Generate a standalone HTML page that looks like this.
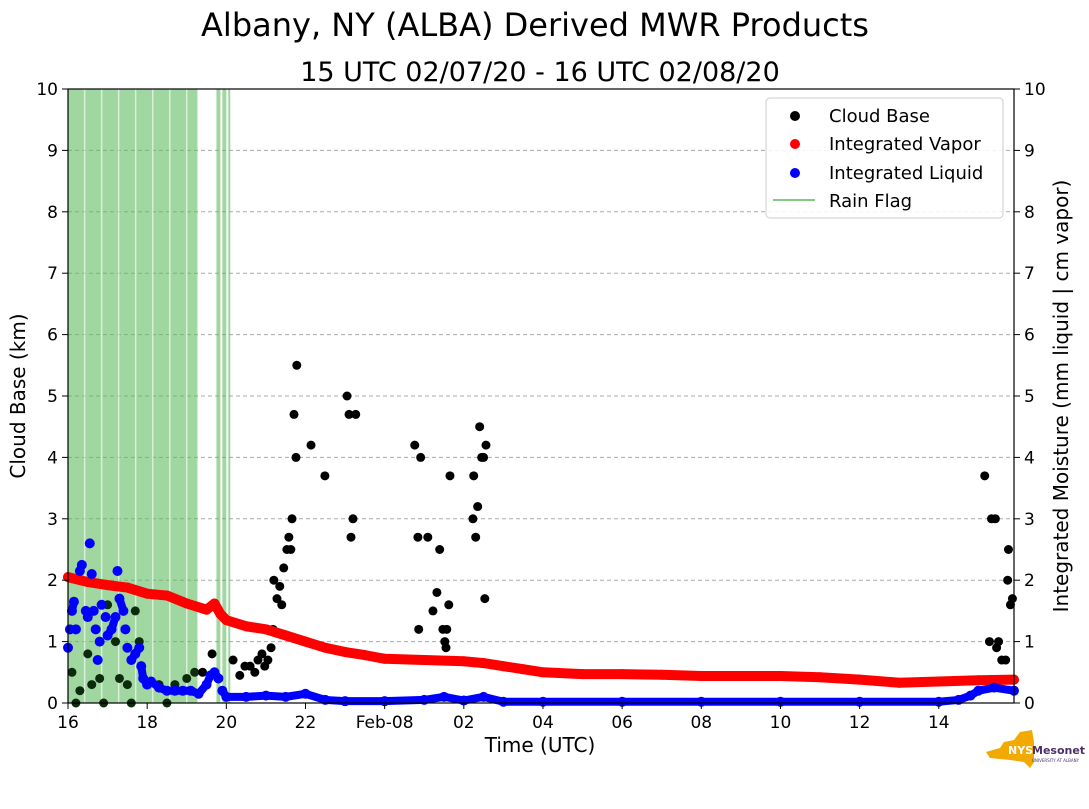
<!DOCTYPE html>
<html><head><meta charset="utf-8"><style>
body{margin:0;background:#fff;}
svg text{font-family:"DejaVu Sans","Liberation Sans",sans-serif;}
</style></head><body>
<svg id="chart" width="1089" height="804" viewBox="0 0 1089 804" xmlns="http://www.w3.org/2000/svg">
<text x="535" y="36" font-size="32" text-anchor="middle">Albany, NY (ALBA) Derived MWR Products</text>
<text x="540" y="81" font-size="27" text-anchor="middle">15 UTC 02/07/20 - 16 UTC 02/08/20</text>
<g id="grid"></g>
<g id="rain"></g>
<g id="cloud"></g>
<g id="vapor"></g>
<g id="liquid"></g>
<rect x="68" y="89" width="946" height="614" fill="none" stroke="#000" stroke-width="1.2"/>
<g id="axes"></g>
<text x="540" y="752" font-size="20" text-anchor="middle">Time (UTC)</text>
<text transform="translate(25,396) rotate(-90)" font-size="20" text-anchor="middle">Cloud Base (km)</text>
<text transform="translate(1068,396) rotate(-90)" font-size="20" text-anchor="middle">Integrated Moisture (mm liquid | cm vapor)</text>
<g>
<rect x="766" y="98" width="237" height="120" rx="4" fill="#fff" fill-opacity="0.85" stroke="#ccc"/>
<circle cx="795" cy="116" r="5" fill="#000"/>
<text x="829" y="122" font-size="18">Cloud Base</text>
<circle cx="795" cy="144" r="5" fill="red"/>
<text x="829" y="150" font-size="18">Integrated Vapor</text>
<circle cx="795" cy="173" r="5" fill="blue"/>
<text x="829" y="179" font-size="18">Integrated Liquid</text>
<line x1="773" y1="200" x2="815" y2="200" stroke="#5cb85c" stroke-width="1.5"/>
<text x="829" y="207" font-size="18">Rain Flag</text>
</g>
<g>
<polygon points="986,752 1000,748 1004,742 1014,740 1020,732 1032,730 1034,742 1034,762 1030,768 1024,762 1010,760 990,758" fill="#f2a900"/>
<text x="1008" y="754" font-size="11" font-weight="bold" fill="#fff">NYS</text>
<text x="1032" y="754" font-size="11" font-weight="bold" fill="#4b2e6b">Mesonet</text>
<text x="1032" y="762" font-size="4" fill="#4b2e6b">UNIVERSITY AT ALBANY</text>
</g>
</svg>
<script>
const NS="http://www.w3.org/2000/svg";
const xTickHours=[0,2,4,6,8,10,12,14,16,18,20,22];
const xTickLabels=["16","18","20","22","Feb-08","02","04","06","08","10","12","14"];
const yTicks=[0,1,2,3,4,5,6,7,8,9,10];
const rainSpans=[[0,3.27],[3.75,3.85],[3.9,4.0],[4.05,4.1]];
const cloudT=[0.1,0.3,0.5,0.6,0.8,1.0,1.2,1.3,1.5,1.7,1.8,2.0,2.3,2.7,3.0,3.2,3.4,0.2,0.9,1.6,2.5,3.64,4.17,4.34,4.47,4.6,4.72,4.8,4.9,4.97,5.05,5.13,5.18,5.2,5.28,5.35,5.4,5.45,5.53,5.58,5.63,5.66,5.71,5.76,5.78,6.14,6.49,7.05,7.1,7.15,7.2,7.27,8.76,8.84,8.86,8.91,9.09,9.22,9.32,9.39,9.47,9.52,9.55,9.57,9.62,9.65,10.23,10.25,10.3,10.35,10.4,10.45,10.5,10.53,10.56,23.16,23.28,23.33,23.43,23.46,23.51,23.59,23.69,23.74,23.76,23.81,23.86];
const cloudV=[0.5,0.2,0.8,0.3,0.4,1.6,1.0,0.4,0.3,1.5,1.0,0.3,0.3,0.3,0.4,0.5,0.5,0,0,0,0,0.8,0.7,0.45,0.6,0.6,0.5,0.7,0.8,0.6,0.7,0.9,1.2,2.0,1.7,1.9,1.6,2.2,2.5,2.7,2.5,3.0,4.7,4.0,5.5,4.2,3.7,5.0,4.7,2.7,3.0,4.7,4.2,2.7,1.2,4.0,2.7,1.5,1.8,2.5,1.2,1.0,0.9,1.2,1.6,3.7,3.0,3.7,2.7,3.2,4.5,4.0,4.0,1.7,4.2,3.7,1.0,3.0,3.0,0.9,1.0,0.7,0.7,2.0,2.5,1.6,1.7];
const vaporT=[0,0.5,1,1.5,2,2.5,3,3.5,3.7,3.85,4,4.5,5,5.5,6,6.5,7,7.5,8,9,10,10.5,11,11.5,12,13,14,15,16,17,18,19,20,21,22,23,23.9];
const vaporV=[2.05,1.97,1.92,1.88,1.78,1.75,1.62,1.52,1.62,1.45,1.35,1.25,1.2,1.1,1.0,0.9,0.83,0.78,0.72,0.7,0.68,0.65,0.6,0.55,0.5,0.47,0.47,0.46,0.44,0.44,0.44,0.42,0.38,0.33,0.35,0.37,0.38];
const liquidT=[0,0.05,0.1,0.15,0.2,0.3,0.35,0.45,0.5,0.55,0.6,0.65,0.7,0.75,0.8,0.85,0.95,1.0,1.1,1.2,1.25,1.3,1.4,1.45,1.5,1.6,1.7,1.8,1.85,1.9,2.0,2.1,2.3,2.5,2.7,2.9,3.1,3.3,3.5,3.6,3.7,3.8,3.9,4.0,4.5,5,5.5,6,6.5,7,8,9,9.5,10,10.5,11,12,14,16,18,20,22,22.5,22.8,23,23.4,23.9];
const liquidV=[0.9,1.2,1.5,1.65,1.2,2.15,2.25,1.5,1.4,2.6,2.1,1.5,1.2,0.7,1.0,1.6,1.4,1.1,1.2,1.4,2.15,1.7,1.5,1.2,0.9,0.7,0.8,0.9,0.6,0.4,0.3,0.35,0.25,0.2,0.2,0.2,0.2,0.15,0.3,0.45,0.5,0.4,0.2,0.1,0.1,0.12,0.1,0.15,0.05,0.03,0.03,0.05,0.1,0.04,0.1,0.02,0.02,0.02,0.02,0.02,0.02,0.02,0.05,0.12,0.2,0.25,0.2];
const X0=68,X1=1014,Y0=703,Y1=89,TMAX=23.9;
const xs=t=>X0+(X1-X0)*t/TMAX, ys=v=>Y0-(Y0-Y1)*v/10;
function mk(tag,attrs,parent){const e=document.createElementNS(NS,tag);for(const k in attrs)e.setAttribute(k,attrs[k]);parent.appendChild(e);return e;}
const grid=document.getElementById('grid'),axes=document.getElementById('axes');
yTicks.forEach(v=>{
 if(v>0&&v<10){const l=mk('line',{x1:X0,x2:X1,y1:ys(v),y2:ys(v),stroke:'#aaa','stroke-dasharray':'4,3','stroke-width':1},grid);
 
 }
 [[X0,-1,'end'],[X1,1,'start']].forEach(([x,d,a])=>{
  mk('line',{x1:x,x2:x+6*d,y1:ys(v),y2:ys(v),stroke:'#000'},axes);
  const t=mk('text',{x:x+10*d,y:ys(v)+6,'font-size':17,'text-anchor':a},axes);t.textContent=v;
  
  
 });
});
xTickHours.forEach((h,i)=>{
 mk('line',{x1:xs(h),x2:xs(h),y1:Y0,y2:Y0+6,stroke:'#000'},axes);
 const t=mk('text',{x:xs(h),y:Y0+25,'font-size':17,'text-anchor':'middle'},axes);t.textContent=xTickLabels[i];
 
 
});
const rain=document.getElementById('rain');
rainSpans.forEach(([a,b])=>{
 const r=mk('rect',{x:xs(a),y:Y1,width:xs(b)-xs(a),height:Y0-Y1,fill:'#5cb85c','fill-opacity':0.58},rain);
 
 
 for(let t=a+0.42;t<b-0.05;t+=0.43){mk('line',{x1:xs(t),x2:xs(t),y1:Y1,y2:Y0,stroke:'#fff','stroke-width':1.5,'stroke-opacity':0.6},rain);}
});
const cloud=document.getElementById('cloud');
cloudT.forEach((t,i)=>{const c=mk('circle',{cx:xs(t),cy:ys(cloudV[i]),r:4.5,fill:t<3.3?'#0c2a0c':'#000'},cloud);
 
 });
function series(g,T,V,color,name,w,always){
 let d='';
 for(let i=1;i<T.length;i++){if(always||Math.abs(V[i]-V[i-1])<0.2||T[i]-T[i-1]>0.3)d+=`M${xs(T[i-1])},${ys(V[i-1])}L${xs(T[i])},${ys(V[i])}`;}
 const p=mk('path',{d:d,stroke:color,'stroke-width':w,'stroke-linecap':'round',fill:'none'},g);
 
 
 T.forEach((t,i)=>{const c=mk('circle',{cx:xs(t),cy:ys(V[i]),r:5,fill:color},g);
  
  });
}
series(document.getElementById('vapor'),vaporT,vaporV,'red','vapor',10,true);
series(document.getElementById('liquid'),liquidT,liquidV,'blue','liquid',8,false);
</script>
</body></html>
